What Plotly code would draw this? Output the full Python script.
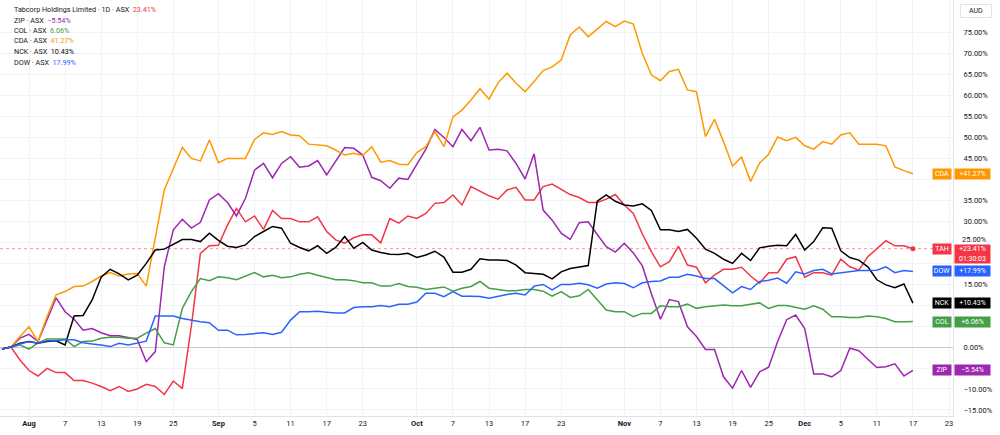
import pandas as pd
import plotly.graph_objects as go

# ---- data (percent change, trading days 29 Jul 2025 .. 17 Dec 2025) ----
dates = pd.bdate_range("2025-07-29", "2025-12-17")

tah = [-0.5, 0, -3.1, -5.6, -6.9, -5.1, -6.1, -6.1, -8.0, -8.0,
       -8.6, -9.4, -10.4, -9.4, -10.6, -10.0, -8.9, -9.4, -11.3, -8.1,
       -9.9, 5.0, 22.3, 24.1, 24.2, 29.0, 33.0, 29.8, 31.2, 28.0,
       32.5, 30.6, 30.6, 29.8, 29.8, 31.0, 27.5, 25.5, 24.7, 26.0,
       26.7, 26.7, 24.8, 30.6, 29.5, 31.2, 30.6, 31.8, 34.2, 34.4,
       36.2, 33.8, 38.2, 37.0, 36.0, 35.2, 37.4, 38.0, 35.0, 35.0,
       38.2, 38.8, 37.5, 36.3, 35.6, 34.4, 34.4, 35.2, 36.3, 33.8,
       31.8, 26.9, 22.7, 19.1, 20.3, 24.0, 19.5, 19.0, 15.3, 17.1,
       18.5, 18.5, 19.0, 16.9, 15.2, 17.7, 17.7, 20.9, 21.5, 16.6,
       17.7, 17.7, 17.1, 20.9, 19.1, 18.3, 21.5, 23.5, 25.3, 24.1,
       24.1, 23.41]

zip_ = [-0.5, 0, 2.1, 3.0, 1.3, 6.5, 11.7, 8.4, 6.6, 4.0,
        4.4, 3.4, 2.7, 2.7, 2.3, 1.8, -3.5, -1.1, 19.1, 27.9,
        30.4, 28.3, 29.7, 35.0, 36.5, 34.4, 31.2, 35.4, 42.1, 43.7,
        40.3, 43.7, 45.3, 42.8, 43.1, 44.4, 41.0, 44.1, 47.5, 47.3,
        45.7, 40.4, 39.6, 37.8, 40.2, 39.9, 43.5, 47.1, 51.8, 49.9,
        47.7, 51.8, 49.1, 52.3, 46.9, 47.1, 46.7, 43.7, 40.0, 46.0,
        32.6, 30.2, 27.1, 25.6, 29.6, 29.8, 26.8, 23.9, 22.6, 24.7,
        22.4, 19.3, 12.7, 6.6, 11.3, 10.8, 4.8, 2.5, -0.6, -0.6,
        -7.1, -9.8, -5.6, -9.6, -5.9, -4.8, 1.3, 6.5, 7.6, 4.4,
        -6.4, -6.4, -7.1, -5.6, -0.3, -0.9, -2.9, -4.9, -4.7, -4.0,
        -6.9, -5.54]

col = [-0.5, 0, 0.5, -0.5, 1.0, 1.9, 1.9, 1.9, 0.1, 1.3,
       1.4, 2.1, 2.3, 2.3, 2.1, 2.1, 3.3, 4.4, 1.0, 0.5,
       9.2, 13.2, 16.3, 15.8, 16.7, 16.5, 16.0, 16.8, 17.7, 16.7,
       17.1, 16.5, 16.7, 17.3, 17.7, 17.1, 16.6, 16.0, 16.0, 15.8,
       15.3, 15.3, 14.5, 14.5, 15.1, 14.4, 14.2, 13.7, 14.0, 14.3,
       13.3, 14.0, 14.4, 15.6, 14.0, 13.7, 13.4, 13.4, 13.7, 13.7,
       13.3, 12.1, 13.2, 11.8, 12.2, 13.7, 11.3, 8.8, 8.4, 8.4,
       7.2, 8.0, 8.0, 9.8, 9.6, 9.6, 10.2, 9.2, 9.6, 9.8,
       10.0, 9.8, 9.8, 10.2, 10.5, 9.2, 9.9, 9.9, 9.5, 9.0,
       9.8, 9.0, 7.2, 7.2, 7.0, 7.0, 7.4, 7.2, 6.8, 6.0,
       6.0, 6.06]

cda = [-0.5, 0, 2.5, 4.8, 1.3, 7.2, 12.4, 13.2, 14.4, 14.5,
       15.6, 16.9, 17.7, 16.9, 17.4, 17.5, 14.5, 26.0, 37.4, 42.5,
       47.5, 44.9, 44.3, 49.3, 43.9, 44.9, 44.9, 44.9, 49.4, 51.0,
       50.6, 51.3, 50.5, 50.3, 48.3, 48.1, 47.9, 46.9, 45.7, 46.1,
       45.6, 47.7, 44.0, 44.4, 43.5, 43.4, 46.3, 47.7, 51.3, 47.7,
       54.8, 56.4, 58.8, 61.5, 59.0, 62.9, 65.2, 62.8, 60.8, 63.2,
       65.8, 66.7, 68.3, 74.3, 76.2, 73.9, 75.6, 77.5, 76.3, 77.6,
       76.9, 69.9, 64.8, 63.4, 65.6, 66.1, 61.2, 60.8, 50.1, 54.2,
       48.9, 43.1, 45.2, 39.4, 43.8, 45.9, 50.0, 49.1, 49.9, 47.9,
       47.1, 48.9, 48.3, 50.5, 51.0, 48.3, 48.3, 48.3, 47.9, 42.9,
       42.0, 41.27]

nck = [-0.5, 0, 0.9, 1.3, 0.9, 1.3, 1.5, 0.5, 7.4, 7.5,
       11.2, 16.6, 18.5, 17.4, 16.0, 17.1, 19.9, 23.1, 23.3, 24.5,
       25.6, 25.6, 25.1, 27.1, 25.4, 24.0, 23.7, 24.3, 26.3, 27.5,
       28.7, 28.3, 24.7, 23.7, 22.9, 24.1, 22.3, 23.7, 26.3, 23.5,
       24.9, 23.1, 22.5, 22.1, 22.0, 22.3, 21.3, 21.9, 22.8, 21.4,
       17.8, 17.8, 18.5, 21.0, 20.7, 20.7, 20.6, 19.5, 17.7, 17.5,
       17.3, 16.2, 17.9, 18.7, 19.0, 19.4, 34.7, 36.2, 34.7, 33.8,
       33.6, 34.1, 32.5, 27.9, 27.9, 27.5, 28.0, 25.9, 23.3, 22.3,
       20.9, 19.9, 22.3, 20.6, 23.6, 24.0, 24.2, 24.1, 26.8, 23.1,
       25.1, 28.4, 28.3, 22.9, 21.3, 20.7, 19.1, 16.0, 14.8, 14.1,
       15.0, 10.43]

dow = [-0.5, 0, 0.7, 1.3, 0.9, 1.5, 1.5, 1.7, 1.7, 1.0,
       0.7, 0.5, 0.1, 0.9, 0.5, 0.9, 1.4, 7.4, 7.4, 7.4,
       6.8, 6.4, 6.0, 5.8, 4.0, 4.0, 2.9, 3.0, 3.2, 3.4,
       3.0, 3.5, 6.4, 8.4, 8.4, 8.5, 8.3, 8.1, 8.1, 9.4,
       9.6, 9.6, 9.9, 9.6, 10.2, 10.2, 10.7, 12.8, 12.8, 12.0,
       13.2, 12.1, 12.1, 12.0, 11.6, 12.1, 12.5, 12.8, 12.4, 14.5,
       14.9, 13.6, 14.9, 14.9, 15.2, 14.8, 14.0, 15.0, 15.3, 15.1,
       14.1, 15.3, 15.6, 15.7, 16.6, 16.6, 17.3, 16.9, 16.3, 16.3,
       14.5, 12.9, 14.4, 13.7, 15.6, 15.9, 16.4, 15.2, 17.9, 17.4,
       18.2, 18.5, 17.4, 17.7, 17.9, 18.2, 18.2, 18.3, 19.1, 17.7,
       18.2, 17.99]

tick_dates = ["2025-08-01", "2025-08-07", "2025-08-13", "2025-08-19", "2025-08-25",
              "2025-09-01", "2025-09-05", "2025-09-11", "2025-09-17", "2025-09-23",
              "2025-10-01", "2025-10-07", "2025-10-13", "2025-10-17", "2025-10-23",
              "2025-11-03", "2025-11-07", "2025-11-13", "2025-11-19", "2025-11-25",
              "2025-12-01", "2025-12-05", "2025-12-11", "2025-12-17", "2025-12-23"]
tick_labels = ["<b>Aug</b>", "7", "13", "19", "25",
               "<b>Sep</b>", "5", "11", "17", "23",
               "<b>Oct</b>", "7", "13", "17", "23",
               "<b>Nov</b>", "7", "13", "19", "25",
               "<b>Dec</b>", "5", "11", "17", "23"]

# grid levels; labels of levels hidden behind the price badges are left blank,
# the 25 % label (half hidden in the original) is lifted slightly as an annotation
y_ticks = [-15, -10, -5, 0, 5, 10, 15, 20, 25, 30, 35, 40, 45, 50, 55, 60, 65, 70, 75]
y_hidden = [-5, 5, 10, 20, 40]
y_lifted = [25]

series = [
    # ticker, legend title, values, colour
    ("TAH", "Tabcorp Holdings Limited · 1D · ASX", tah, "#f23645"),
    ("ZIP", "ZIP · ASX", zip_, "#9c27b0"),
    ("COL", "COL · ASX", col, "#43a047"),
    ("CDA", "CDA · ASX", cda, "#ff9800"),
    ("NCK", "NCK · ASX", nck, "#000000"),
    ("DOW", "DOW · ASX", dow, "#2962ff"),
]

for _, _, v, _ in series:
    assert len(v) == len(dates), (len(v), len(dates))

FONT = "Roboto, 'DejaVu Sans', sans-serif"
TXT = "#131722"


def pct(v, plus=False):
    s = f"{v:.2f}%"
    if v < 0:
        s = "\u2212" + s[1:]
    elif plus:
        s = "+" + s
    return s


fig = go.Figure()

# dotted price line of main series (drawn under the lines)
fig.add_shape(type="line", xref="paper", x0=0, x1=1, yref="y", y0=tah[-1], y1=tah[-1],
              line=dict(color="rgba(242,54,69,0.55)", width=1, dash="dot"), layer="below")

for tk, title, vals, colr in series:
    fig.add_trace(go.Scatter(x=dates, y=vals, mode="lines", name=tk,
                             line=dict(color=colr, width=1.5),
                             hoverinfo="skip", showlegend=False))

# last point marker of main series
fig.add_trace(go.Scatter(x=[dates[-1]], y=[tah[-1]], mode="markers",
                         marker=dict(color="#f23645", size=5),
                         hoverinfo="skip", showlegend=False))

annotations = []
# top-left legend
line_px = [9.5, 20, 30.5, 41, 51.5, 62]
plot_h = 416
for (tk, title, vals, colr), py in zip(series, line_px):
    annotations.append(dict(
        xref="paper", yref="paper", x=12 / 953, y=1 - py / plot_h,
        xanchor="left", yanchor="middle", showarrow=False,
        text=f"{title}  <span style='color:{colr}'>{pct(vals[-1])}</span>",
        font=dict(family=FONT, size=7.2, color=TXT)))

# lifted axis label(s)
for v in y_lifted:
    annotations.append(dict(
        xref="paper", yref="y", x=1, y=v, xanchor="left", yanchor="middle",
        xshift=7, yshift=2.5, showarrow=False, text=pct(v),
        font=dict(family=FONT, size=7.5, color=TXT)))

# right axis badges
for tk, title, vals, colr in series:
    two = tk == "TAH"
    annotations.append(dict(
        xref="paper", yref="y", x=1, y=vals[-1], xanchor="right", yanchor="middle",
        xshift=-1, showarrow=False, text=tk, bgcolor=colr, width=16, height=8,
        borderpad=1, align="center",
        font=dict(family=FONT, size=7, color="#ffffff")))
    annotations.append(dict(
        xref="paper", yref="y", x=1, y=vals[-1], xanchor="left", yanchor="middle",
        xshift=1, yshift=-5 if two else 0, showarrow=False,
        text=pct(vals[-1], plus=True) + ("<br>01:30:03" if two else ""),
        bgcolor=colr, width=33, height=16 if two else 8, borderpad=1, align="center",
        font=dict(family=FONT, size=7, color="#ffffff")))

# currency box
annotations.append(dict(
    xref="paper", yref="paper", x=1, y=1, xanchor="left", yanchor="top",
    xshift=7, yshift=-4, showarrow=False, text="AUD", width=28, height=10,
    bordercolor="#e0e3eb", borderwidth=1, borderpad=1,
    font=dict(family=FONT, size=7, color=TXT)))

fig.update_layout(
    width=1000, height=435,
    margin=dict(l=0, r=47, t=0, b=19),
    paper_bgcolor="#ffffff", plot_bgcolor="#ffffff",
    font=dict(family=FONT, size=7.5, color=TXT),
    hovermode=False,
    annotations=annotations,
    xaxis=dict(
        type="date",
        rangebreaks=[dict(bounds=["sat", "mon"])],
        range=["2025-07-28 18:50", "2025-12-23 10:34"],
        tickmode="array", tickvals=tick_dates, ticktext=tick_labels,
        showgrid=True, gridcolor="#f2f3f6", gridwidth=1,
        showline=True, linecolor="#e0e3eb", linewidth=1,
        ticks="", tickfont=dict(size=7.5, color=TXT),
        zeroline=False, automargin=False,
    ),
    yaxis=dict(
        side="right",
        range=[-16.43, 82.62],
        tickmode="array", tickvals=y_ticks,
        ticktext=["" if (v in y_hidden or v in y_lifted) else pct(v) for v in y_ticks],
        showgrid=True, gridcolor="#f2f3f6", gridwidth=1,
        showline=True, linecolor="#e0e3eb", linewidth=1,
        zeroline=True, zerolinecolor="#c5c8d0", zerolinewidth=1,
        ticks="", ticklabelstandoff=8, tickfont=dict(size=7.5, color=TXT),
        automargin=False,
    ),
)

fig.write_html("out.html")
